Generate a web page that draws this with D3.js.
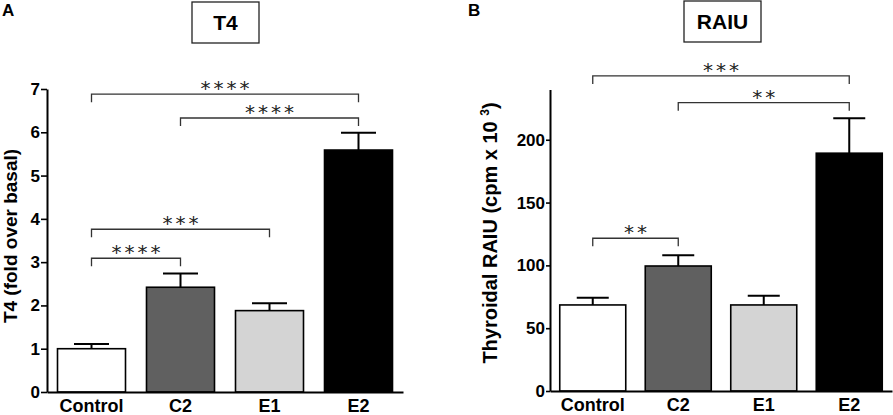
<!DOCTYPE html>
<html>
<head>
<meta charset="utf-8">
<script src="https://cdn.jsdelivr.net/npm/d3@7"></script>
<style>
  body { margin: 0; background: #fff; }
  svg { display: block; font-family: 'Liberation Sans', Arial, sans-serif; }
</style>
</head>
<body>
<script>
// groups shared by both panels
const categories = ['Control', 'C2', 'E1', 'E2'];
const barFills = ['#ffffff', '#606060', '#d4d4d4', '#000000'];

// panel A: T4, fold over basal
const t4Means = [1.0, 2.42, 1.88, 5.59];
const t4Errors = [0.11, 0.32, 0.17, 0.40];
const t4Ticks = [0, 1, 2, 3, 4, 5, 6, 7];
const t4Brackets = [
    { from: 'Control', to: 'E2', level: 6.88, label: '****' },
    { from: 'C2', to: 'E2', level: 6.33, label: '****' },
    { from: 'Control', to: 'E1', level: 3.76, label: '***' },
    { from: 'Control', to: 'C2', level: 3.09, label: '****' },
];

// panel B: thyroidal RAIU (cpm x 10^3)
const raiuMeans = [68.5, 99.5, 68.5, 189.3];
const raiuErrors = [5.8, 8.5, 7.4, 27.8];
const raiuTicks = [0, 50, 100, 150, 200];
const raiuBrackets = [
    { from: 'Control', to: 'E2', level: 250.8, label: '***' },
    { from: 'C2', to: 'E2', level: 229.5, label: '**' },
    { from: 'Control', to: 'C2', level: 121.6, label: '**' },
];

const width = 893;
const height = 415;

const svg = d3.select('body')
    .append('svg')
    .attr('width', width)
    .attr('height', height);

function drawPanel(p) {
    const g = svg.append('g');

    const x = d3.scaleBand()
        .domain(categories)
        .range(p.xRange)
        .paddingInner(p.pad)
        .paddingOuter(p.pad / 2);

    const y = d3.scaleLinear()
        .domain(p.yDomain)
        .range(p.yRange);

    const rows = categories.map((c, i) => ({
        cat: c,
        mean: p.means[i],
        err: p.errors[i],
        fill: barFills[i],
    }));

    // error bars (upper only) go behind the bars
    const cx = (d) => x(d.cat) + x.bandwidth() / 2;
    g.append('g')
        .selectAll('path')
        .data(rows)
        .join('path')
        .attr('d', (d) => `M${cx(d)},${y(d.mean)}V${y(d.mean + d.err)}` +
            `M${cx(d) - p.cap / 2},${y(d.mean + d.err)}h${p.cap}`)
        .attr('fill', 'none')
        .attr('stroke', '#000')
        .attr('stroke-width', 2);

    g.append('g')
        .selectAll('rect')
        .data(rows)
        .join('rect')
        .attr('x', (d) => x(d.cat))
        .attr('y', (d) => y(d.mean))
        .attr('width', x.bandwidth())
        .attr('height', (d) => y(0) - y(d.mean))
        .attr('fill', (d) => d.fill)
        .attr('stroke', '#000')
        .attr('stroke-width', 1.6);

    // y axis
    const yAxis = g.append('g')
        .attr('transform', `translate(${p.xRange[0]},0)`)
        .call(d3.axisLeft(y)
            .tickValues(p.ticks)
            .tickFormat(d3.format('d'))
            .tickSize(p.tickLen)
            .tickSizeOuter(0)
            .tickPadding(1));
    yAxis.selectAll('text')
        .attr('font-family', "'Liberation Sans', Arial, sans-serif")
        .attr('font-size', 17)
        .attr('font-weight', 'bold')
        .attr('fill', '#000');

    // x axis
    const xAxis = g.append('g')
        .attr('transform', `translate(0,${y(0)})`)
        .call(d3.axisBottom(x).tickSize(0).tickSizeOuter(0));
    xAxis.selectAll('text')
        .attr('y', 20)
        .attr('dy', 0)
        .attr('font-family', "'Liberation Sans', Arial, sans-serif")
        .attr('font-size', 18)
        .attr('font-weight', 'bold')
        .attr('fill', '#000');

    [yAxis, xAxis].forEach((a) => {
        a.select('.domain').attr('stroke', '#000').attr('stroke-width', 2);
        a.selectAll('.tick line').attr('stroke', '#000').attr('stroke-width', 1.6);
    });

    // significance brackets
    const bg = g.append('g');
    p.brackets.forEach((b) => {
        const x1 = x(b.from) + x.bandwidth() / 2;
        const x2 = x(b.to) + x.bandwidth() / 2;
        const yy = y(b.level);
        bg.append('path')
            .attr('d', `M${x1},${yy + p.drop}V${yy}H${x2}V${yy + p.drop}`)
            .attr('fill', 'none')
            .attr('stroke', '#333')
            .attr('stroke-width', 1.3);
        bg.append('text')
            .attr('x', (x1 + x2) / 2)
            .attr('y', yy + 1)
            .attr('dx', 1.5)
            .attr('text-anchor', 'middle')
            .attr('font-family', "'DejaVu Sans', sans-serif")
            .attr('font-size', 20)
            .attr('letter-spacing', 3)
            .attr('fill', '#222')
            .text(b.label);
    });

    // y axis title
    const yt = g.append('text')
        .attr('transform', `translate(${p.titleX},${p.titleY}) rotate(-90)`)
        .attr('text-anchor', 'middle')
        .attr('font-size', p.titleSize)
        .attr('font-weight', 'bold')
        .attr('fill', '#000');
    yt.append('tspan').text(p.yTitle);
    if (p.sup) {
        yt.append('tspan').attr('font-size', 12).attr('dy', -8).text(p.sup);
        yt.append('tspan').attr('dy', 8).text(')');
    }

    // boxed header
    g.append('rect')
        .attr('x', p.box[0])
        .attr('y', p.box[1])
        .attr('width', p.box[2])
        .attr('height', p.box[3])
        .attr('fill', '#fff')
        .attr('stroke', '#222')
        .attr('stroke-width', 1.3);
    g.append('text')
        .attr('x', p.box[0] + p.box[2] / 2)
        .attr('y', p.box[1] + 28)
        .attr('text-anchor', 'middle')
        .attr('font-size', 21)
        .attr('font-weight', 'bold')
        .text(p.header);

    // panel letter
    g.append('text')
        .attr('x', p.letterX)
        .attr('y', 16)
        .attr('font-size', 17)
        .attr('font-weight', 'bold')
        .text(p.letter);
}

drawPanel({
    means: t4Means,
    errors: t4Errors,
    ticks: t4Ticks,
    brackets: t4Brackets,
    xRange: [47, 403],
    pad: 0.236,
    yDomain: [0, 7],
    yRange: [392, 89],
    tickLen: 6,
    cap: 35,
    drop: 8,
    yTitle: 'T4 (fold over basal)',
    titleX: 17,
    titleY: 236,
    titleSize: 19,
    box: [192, 2, 67, 41],
    header: 'T4',
    letter: 'A',
    letterX: 2,
});

drawPanel({
    means: raiuMeans,
    errors: raiuErrors,
    ticks: raiuTicks,
    brackets: raiuBrackets,
    xRange: [550, 892],
    pad: 0.228,
    yDomain: [0, 240],
    yRange: [391, 89.5],
    tickLen: 4,
    cap: 32,
    drop: 8,
    yTitle: 'Thyroidal RAIU (cpm x 10 ',
    sup: '3',
    titleX: 497,
    titleY: 233,
    titleSize: 20,
    box: [684, 1, 77, 41],
    header: 'RAIU',
    letter: 'B',
    letterX: 468,
});
</script>
</body>
</html>
